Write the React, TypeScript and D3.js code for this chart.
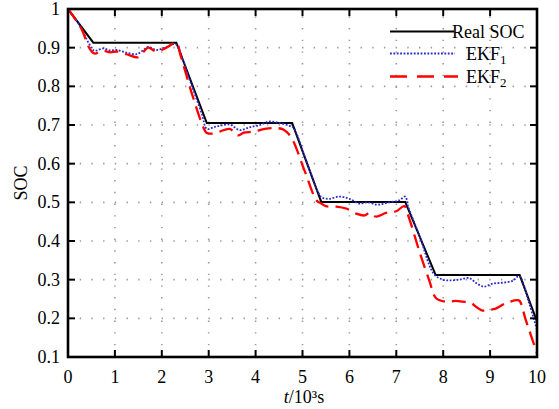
import React from "react";
import * as d3 from "d3";

// Time axis in 10^3 s, SOC as fraction
const xTicks = [0, 1, 2, 3, 4, 5, 6, 7, 8, 9, 10];
const yTicks = [0.1, 0.2, 0.3, 0.4, 0.5, 0.6, 0.7, 0.8, 0.9, 1];

// Real SOC
const realT = [0, 0.54, 2.31, 2.96, 4.78, 5.4, 7.19, 7.84, 9.63, 10];
const realS = [1.0, 0.913, 0.913, 0.705, 0.705, 0.501, 0.501, 0.312, 0.312, 0.192];

// EKF1 estimate
const ekf1T = [0, 0.26, 0.45, 0.56, 0.75, 0.9, 1.04, 1.25, 1.46, 1.6, 1.71, 1.89, 2.1, 2.28, 2.34, 2.6, 2.85, 2.96, 3.1, 3.23, 3.45, 3.66, 3.87, 4.09, 4.3, 4.51, 4.72, 4.8, 5.1, 5.35, 5.42, 5.57, 5.79, 6.0, 6.21, 6.39, 6.6, 6.85, 7.06, 7.19, 7.25, 7.5, 7.8, 7.99, 8.13, 8.34, 8.55, 8.73, 8.87, 9.06, 9.26, 9.48, 9.62, 9.83, 10];
const ekf1S = [1.0, 0.955, 0.91, 0.892, 0.898, 0.893, 0.894, 0.887, 0.883, 0.893, 0.902, 0.894, 0.902, 0.91, 0.903, 0.815, 0.73, 0.69, 0.694, 0.698, 0.701, 0.687, 0.694, 0.7, 0.709, 0.705, 0.698, 0.694, 0.6, 0.522, 0.512, 0.509, 0.515, 0.509, 0.497, 0.5, 0.494, 0.5, 0.505, 0.515, 0.49, 0.412, 0.315, 0.3, 0.298, 0.3, 0.304, 0.289, 0.282, 0.29, 0.292, 0.297, 0.309, 0.24, 0.17];

// EKF2 estimate
const ekf2T = [0, 0.29, 0.45, 0.56, 0.75, 0.9, 1.04, 1.25, 1.5, 1.6, 1.71, 1.89, 2.1, 2.31, 2.4, 2.67, 2.9, 2.96, 3.09, 3.23, 3.45, 3.62, 3.75, 3.96, 4.2, 4.45, 4.6, 4.76, 5.05, 5.3, 5.4, 5.5, 5.72, 5.93, 6.14, 6.32, 6.43, 6.57, 6.78, 7.0, 7.17, 7.27, 7.5, 7.7, 7.85, 8.06, 8.27, 8.41, 8.59, 8.7, 8.84, 8.98, 9.12, 9.33, 9.58, 9.63, 9.76, 10];
const ekf2S = [1.0, 0.948, 0.9, 0.885, 0.892, 0.888, 0.89, 0.883, 0.875, 0.888, 0.9, 0.89, 0.9, 0.913, 0.88, 0.77, 0.69, 0.679, 0.678, 0.683, 0.69, 0.673, 0.68, 0.683, 0.69, 0.692, 0.688, 0.668, 0.58, 0.505, 0.497, 0.49, 0.489, 0.484, 0.471, 0.466, 0.473, 0.463, 0.473, 0.477, 0.49, 0.46, 0.37, 0.299, 0.252, 0.243, 0.245, 0.243, 0.24, 0.23, 0.22, 0.222, 0.225, 0.239, 0.247, 0.245, 0.196, 0.11];

const W = 559;
const H = 409;
const left = 68;
const right = 537;
const top = 9;
const bottom = 357;
const serif = '"Liberation Serif", "DejaVu Serif", Times, serif';

const x = d3.scaleLinear().domain([0, 10]).range([left, right]);
const y = d3.scaleLinear().domain([0.1, 1]).range([bottom, top]);

type P = [number, number];
const zip = (ts: number[], ss: number[]): P[] => ts.map((t, i) => [t, ss[i]]);

const straight = d3.line<P>().x((d) => x(d[0])).y((d) => y(d[1]));
const smooth = d3
  .line<P>()
  .x((d) => x(d[0]))
  .y((d) => y(d[1]))
  .curve(d3.curveCatmullRom.alpha(0.5));

const txt: React.CSSProperties = { fontFamily: serif, fontSize: 18 };

export default function App() {
  const tickLen = 7;
  return (
    <div style={{ position: "fixed", left: 0, top: 0 }}>
      <svg width={W} height={H} style={{ display: "block", background: "#fff" }}>
        <defs>
          <clipPath id="plot">
            <rect x={left} y={top} width={right - left} height={bottom - top} />
          </clipPath>
        </defs>
        {/* dotted grid */}
        <g stroke="#9a9a9a" strokeWidth={1.6} strokeDasharray="1.4 10.3">
          {xTicks.slice(1, -1).map((t) => (
            <line key={"gx" + t} x1={x(t)} x2={x(t)} y1={bottom} y2={top} />
          ))}
          {yTicks.slice(1, -1).map((v) => (
            <line key={"gy" + v} x1={left} x2={right} y1={y(v)} y2={y(v)} />
          ))}
        </g>

        {/* series */}
        <g clipPath="url(#plot)" fill="none">
          <path d={straight(zip(realT, realS)) || ""} stroke="#000" strokeWidth={2} />
          <path
            d={smooth(zip(ekf1T, ekf1S)) || ""}
            stroke="#2a2ad0"
            strokeWidth={1.8}
            strokeDasharray="1.8 1.6"
          />
          <path
            d={smooth(zip(ekf2T, ekf2S)) || ""}
            stroke="#ff0000"
            strokeWidth={2.3}
            strokeDasharray="14 7"
          />
        </g>

        {/* frame and ticks */}
        <g stroke="#000" strokeWidth={2}>
          {xTicks.slice(1, -1).map((t) => (
            <g key={"tx" + t}>
              <line x1={x(t)} x2={x(t)} y1={bottom} y2={bottom - tickLen} />
              <line x1={x(t)} x2={x(t)} y1={top} y2={top + tickLen} />
            </g>
          ))}
          {yTicks.slice(1, -1).map((v) => (
            <g key={"ty" + v}>
              <line x1={left} x2={left + tickLen} y1={y(v)} y2={y(v)} />
              <line x1={right} x2={right - tickLen} y1={y(v)} y2={y(v)} />
            </g>
          ))}
        </g>
        <rect
          x={left}
          y={top}
          width={right - left}
          height={bottom - top}
          fill="none"
          stroke="#000"
          strokeWidth={2.6}
        />

        {/* tick labels */}
        <g style={txt} fill="#000">
          {xTicks.map((t) => (
            <text key={"lx" + t} x={x(t)} y={383} textAnchor="middle">
              {t}
            </text>
          ))}
          {yTicks.map((v) => (
            <text key={"ly" + v} x={60} y={y(v) + 6} textAnchor="end">
              {d3.format("~g")(v)}
            </text>
          ))}
        </g>

        {/* axis titles */}
        <text
          style={txt}
          textAnchor="middle"
          transform={`translate(27, ${(top + bottom) / 2}) rotate(-90)`}
        >
          SOC
        </text>
        <text style={txt} x={304} y={403} textAnchor="middle">
          <tspan fontStyle="italic">t</tspan>/10³s
        </text>

        {/* legend */}
        <g style={txt} fill="#000">
          <line x1={390} x2={454} y1={31.5} y2={31.5} stroke="#000" strokeWidth={2} />
          <text x={452} y={37.5}>Real SOC</text>
          <line
            x1={390}
            x2={455}
            y1={53.5}
            y2={53.5}
            stroke="#2a2ad0"
            strokeWidth={1.8}
            strokeDasharray="1.8 1.6"
          />
          <text x={466} y={60}>
            EKF<tspan style={{ fontSize: 13 }} dy={4}>1</tspan>
          </text>
          <line
            x1={390}
            x2={458}
            y1={76.5}
            y2={76.5}
            stroke="#ff0000"
            strokeWidth={2.3}
            strokeDasharray="17 10"
          />
          <text x={466} y={83}>
            EKF<tspan style={{ fontSize: 13 }} dy={4}>2</tspan>
          </text>
        </g>
      </svg>
    </div>
  );
}
